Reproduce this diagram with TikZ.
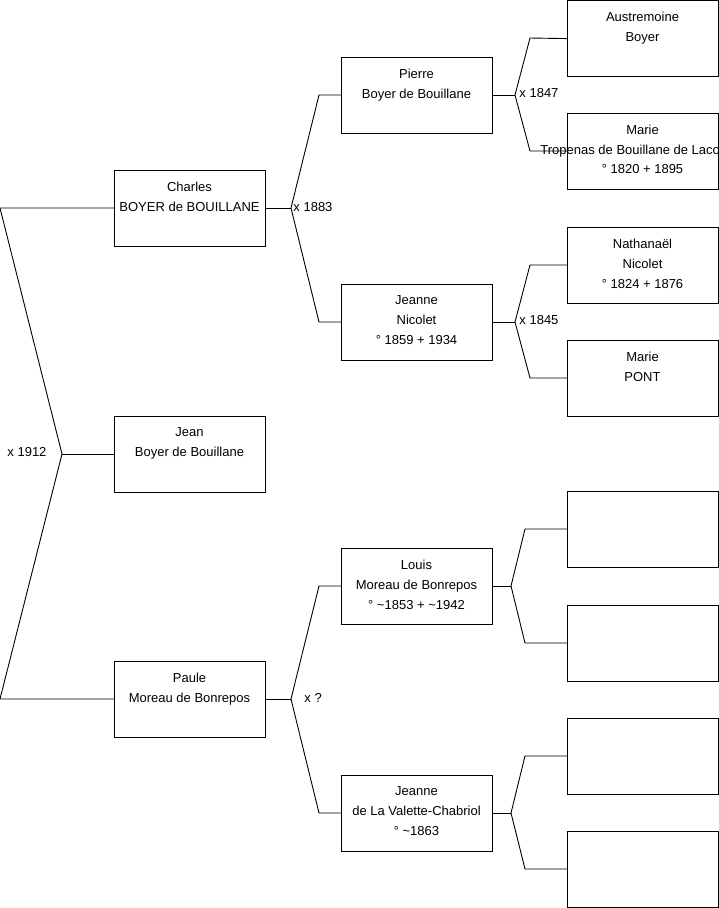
\documentclass[tikz,border=0pt]{standalone}
\usepackage{fontspec}
\setmainfont{Liberation Sans}
\begin{document}
\begin{tikzpicture}[x=1pt,y=-1pt,
  line width=0.9pt,
  person/.style={draw=black, minimum width=151pt, minimum height=76pt, anchor=north west, inner sep=0pt, outer sep=0pt},
  ptext/.style={anchor=north, align=center, inner sep=0pt, font={\fontsize{13}{20}\selectfont}},
  mlabel/.style={anchor=west, inner sep=0pt, font={\fontsize{13}{16}\selectfont}},
  link/.style={draw=black, line width=0.9pt}]
\useasboundingbox (0,0) rectangle (719,908);

% generation 2
\node[person] (charles) at (114,170) {};
\node[person] (jean) at (114,416) {};
\node[person] (paule) at (114,661) {};
% generation 3
\node[person] (pierre) at (341,57) {};
\node[person] (jeanneN) at (341,284) {};
\node[person] (louis) at (341,548) {};
\node[person] (jeanneV) at (341,775) {};
% generation 4
\node[person] (austremoine) at (567,0.6) {};
\node[person] (marieT) at (567,113) {};
\node[person] (nathanael) at (567,227) {};
\node[person] (marieP) at (567,340) {};
\node[person] (blankA) at (567,491) {};
\node[person] (blankB) at (567,605) {};
\node[person] (blankC) at (567,718) {};
\node[person] (blankD) at (567,831) {};

% texts
\node[ptext] (tcharles) at (189.5,181.3) {Charles\\BOYER de BOUILLANE};
\node[ptext] (tjean) at (189.5,427.3) {Jean\\Boyer de Bouillane};
\node[ptext] (tpaule) at (189.5,672.3) {Paule\\Moreau de Bonrepos};
\node[ptext] (tpierre) at (416.5,68.3) {Pierre\\Boyer de Bouillane};
\node[ptext] (tjeanneN) at (416.5,295.3) {Jeanne\\Nicolet\\° 1859 + 1934};
\node[ptext] (tlouis) at (416.5,559.3) {Louis\\Moreau de Bonrepos\\° \textasciitilde1853 + \textasciitilde1942};
\node[ptext] (tjeanneV) at (416.5,786.3) {Jeanne\\de La Valette-Chabriol\\° \textasciitilde1863};
\node[ptext] (taustremoine) at (642.5,11.3) {Austremoine\\Boyer};
\node[ptext] (tmarieT) at (642.5,124.3) {Marie};
\node[ptext, anchor=north west] (tmarieT2) at (540,144.3) {Tropenas de Bouillane de Laco};
\node[ptext] (tmarieT3) at (642.5,164.3) {° 1820 + 1895};
\node[ptext] (tnathanael) at (642.5,238.3) {Nathanaël\\Nicolet\\° 1824 + 1876};
\node[ptext] (tmarieP) at (642.5,351.3) {Marie\\PONT};

% junction points
\coordinate (j1) at (62,454);
\coordinate (j2a) at (291,208);
\coordinate (j2b) at (291,699);
\coordinate (j3a) at (515,95);
\coordinate (j3b) at (515,322);
\coordinate (j3c) at (511,586);
\coordinate (j3d) at (511,813);

% connectors
\draw[link] (charles.west) -- (0,208) -- (j1) -- (0,699) -- (paule.west);
\draw[link] (j1) -- (jean.west);

\draw[link] (charles.east) -- (j2a);
\draw[link] (j2a) -- (319,95) -- (pierre.west);
\draw[link] (j2a) -- (319,322) -- (jeanneN.west);

\draw[link] (paule.east) -- (j2b);
\draw[link] (j2b) -- (319,586) -- (louis.west);
\draw[link] (j2b) -- (319,813) -- (jeanneV.west);

\draw[link] (pierre.east) -- (j3a);
\draw[link] (j3a) -- (530,38) -- (austremoine.west);
\draw[link] (j3a) -- (530,151) -- (marieT.west);

\draw[link] (jeanneN.east) -- (j3b);
\draw[link] (j3b) -- (530,265) -- (nathanael.west);
\draw[link] (j3b) -- (530,378) -- (marieP.west);

\draw[link] (louis.east) -- (j3c);
\draw[link] (j3c) -- (525,529) -- (blankA.west);
\draw[link] (j3c) -- (525,643) -- (blankB.west);

\draw[link] (jeanneV.east) -- (j3d);
\draw[link] (j3d) -- (525,756) -- (blankC.west);
\draw[link] (j3d) -- (525,869) -- (blankD.west);

% marriage labels
\node[mlabel] (m1912) at (7,452) {x 1912};
\node[mlabel] (m1883) at (293,207) {x 1883};
\node[mlabel] (mq) at (304,698) {x ?};
\node[mlabel] (m1847) at (519,93) {x 1847};
\node[mlabel] (m1845) at (519,320) {x 1845};
\end{tikzpicture}
\end{document}
